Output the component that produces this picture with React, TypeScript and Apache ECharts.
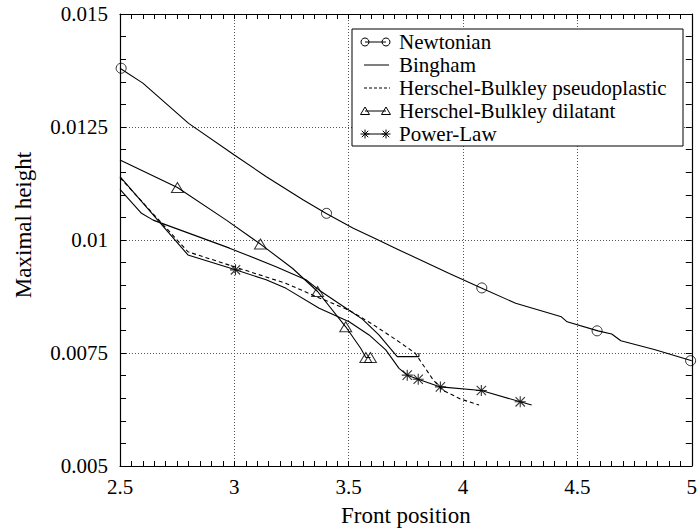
import React, { useEffect, useRef } from "react";
import * as echarts from "echarts";

// ---- Data ----
const newtonianX = [2.5, 2.6, 2.8, 3.0, 3.14, 3.3, 3.4, 3.52, 3.62, 3.72, 3.94, 4.08, 4.23, 4.43, 4.455, 4.59, 4.65, 4.69, 4.84, 5.0];
const newtonianY = [0.0138, 0.01347, 0.01258, 0.01188, 0.0114, 0.01089, 0.01059, 0.01026, 0.01002, 0.00978, 0.00926, 0.00894, 0.0086, 0.0083, 0.00819, 0.00799, 0.00792, 0.00777, 0.00757, 0.00733];
const newtonianMarkX = [2.505, 3.403, 4.082, 4.586, 4.995];
const newtonianMarkY = [0.0138, 0.01059, 0.00894, 0.00799, 0.00733];

const binghamX = [2.5, 2.594, 2.645, 2.979, 3.182, 3.313, 3.371, 3.5, 3.56, 3.632, 3.712, 3.807, 3.807];
const binghamY = [0.01112, 0.01059, 0.01044, 0.00982, 0.00941, 0.00912, 0.00889, 0.00845, 0.00825, 0.0079, 0.00742, 0.00742, 0.0075];

const pseudoX = [2.5, 2.797, 3.005, 3.226, 3.357, 3.5, 3.6, 3.705, 3.79, 3.83, 3.87, 3.91, 3.99, 4.07];
const pseudoY = [0.01138, 0.00974, 0.0094, 0.00904, 0.00875, 0.00845, 0.00815, 0.0078, 0.0075, 0.0072, 0.0069, 0.00668, 0.00648, 0.00635];

const dilatantX = [2.5, 2.751, 2.965, 3.114, 3.255, 3.364, 3.487, 3.553, 3.575, 3.595];
const dilatantY = [0.01177, 0.01116, 0.01044, 0.00991, 0.00937, 0.00886, 0.00808, 0.0076, 0.0074, 0.0074];
const dilatantMarkX = [2.751, 3.114, 3.364, 3.487, 3.575, 3.595];
const dilatantMarkY = [0.01116, 0.00991, 0.00886, 0.00808, 0.0074, 0.0074];

const powerX = [2.5, 2.797, 3.005, 3.139, 3.226, 3.371, 3.502, 3.589, 3.662, 3.72, 3.756, 3.804, 3.901, 4.08, 4.25, 4.3];
const powerY = [0.0114, 0.00967, 0.00934, 0.00912, 0.00893, 0.00849, 0.00819, 0.0079, 0.00757, 0.00716, 0.00701, 0.00692, 0.00675, 0.00667, 0.00642, 0.00635];
const powerMarkX = [3.005, 3.756, 3.804, 3.901, 4.08, 4.25];
const powerMarkY = [0.00934, 0.00701, 0.00692, 0.00675, 0.00667, 0.00642];

const seriesNames = [
  "Newtonian",
  "Bingham",
  "Herschel-Bulkley pseudoplastic",
  "Herschel-Bulkley dilatant",
  "Power-Law",
];

const xMin = 2.5, xMax = 5, xStep = 0.5;
const yMin = 0.005, yMax = 0.015, yStep = 0.0025;
const xTitle = "Front position";
const yTitle = "Maximal height";

const FONT = "Liberation Serif";
const STAR =
  "path://M9 0L11 0L11 20L9 20Z M0 9L20 9L20 11L0 11Z M2.2 0.8L19.2 17.8L17.8 19.2L0.8 2.2Z M17.8 0.8L19.2 2.2L2.2 19.2L0.8 17.8Z";

const zip = (xs: number[], ys: number[]) => xs.map((x, i) => [x, ys[i]]);

function starLines(cx: number, cy: number, r: number) {
  const d = r * 0.72;
  const ls = { stroke: "#000", lineWidth: 1 };
  return [
    { type: "line", shape: { x1: cx - r, y1: cy, x2: cx + r, y2: cy }, style: ls },
    { type: "line", shape: { x1: cx, y1: cy - r, x2: cx, y2: cy + r }, style: ls },
    { type: "line", shape: { x1: cx - d, y1: cy - d, x2: cx + d, y2: cy + d }, style: ls },
    { type: "line", shape: { x1: cx - d, y1: cy + d, x2: cx + d, y2: cy - d }, style: ls },
  ];
}
function tri(cx: number, cy: number) {
  return {
    type: "polygon",
    shape: { points: [[cx, cy - 4], [cx + 4.5, cy + 3.5], [cx - 4.5, cy + 3.5]] },
    style: { fill: "none", stroke: "#000", lineWidth: 1 },
  };
}

export default function App() {
  const ref = useRef<HTMLDivElement>(null);
  useEffect(() => {
    if (!ref.current) return;
    const chart = echarts.init(ref.current, null, { renderer: "svg" });

    const axisCommon = {
      type: "value",
      axisLine: { show: true, onZero: false, lineStyle: { color: "#000", width: 1.2 } },
      axisTick: { show: true, inside: true, lineStyle: { color: "#000", width: 1 } },
      minorTick: { show: true, lineStyle: { color: "#000", width: 1 } },
    };
    const labelStyle = { color: "#000", fontFamily: FONT, fontSize: 21 };
    const gridLine = { show: true, lineStyle: { color: "#555", width: 1, type: [1, 2] } };

    const rowY = [42, 65, 88, 111, 134];
    const lx1 = 365, lx2 = 386, tx = 399;
    const legend: any[] = [
      {
        type: "rect",
        shape: { x: 352, y: 29, width: 331, height: 117 },
        style: { fill: "#fff", stroke: "#000", lineWidth: 1 },
        z: 100,
      },
    ];
    seriesNames.forEach((n, i) => {
      legend.push({
        type: "text",
        x: tx,
        y: rowY[i],
        style: { text: n, fill: "#000", font: `21px ${FONT}`, verticalAlign: "middle", align: "left" },
        z: 101,
      });
    });
    const lineStyle = { stroke: "#000", lineWidth: 1 };
    legend.push({ type: "line", shape: { x1: lx1, y1: rowY[0], x2: lx2, y2: rowY[0] }, style: lineStyle, z: 101 });
    legend.push({ type: "circle", shape: { cx: lx1, cy: rowY[0], r: 4 }, style: { fill: "none", stroke: "#000", lineWidth: 1 }, z: 102 });
    legend.push({ type: "circle", shape: { cx: lx2, cy: rowY[0], r: 4 }, style: { fill: "none", stroke: "#000", lineWidth: 1 }, z: 102 });
    legend.push({ type: "line", shape: { x1: 364, y1: rowY[1], x2: 389, y2: rowY[1] }, style: lineStyle, z: 101 });
    legend.push({ type: "line", shape: { x1: 364, y1: rowY[2], x2: 390, y2: rowY[2] }, style: { ...lineStyle, lineDash: [3, 2] }, z: 101 });
    legend.push({ type: "line", shape: { x1: lx1, y1: rowY[3], x2: lx2, y2: rowY[3] }, style: lineStyle, z: 101 });
    legend.push({ ...tri(lx1, rowY[3]), z: 102 });
    legend.push({ ...tri(lx2, rowY[3]), z: 102 });
    legend.push({ type: "line", shape: { x1: lx1, y1: rowY[4], x2: lx2, y2: rowY[4] }, style: lineStyle, z: 101 });
    starLines(lx1, rowY[4], 4.5).forEach((e) => legend.push({ ...e, z: 102 }));
    starLines(lx2, rowY[4], 4.5).forEach((e) => legend.push({ ...e, z: 102 }));

    const line = (name: string, xs: number[], ys: number[], dashed = false) => ({
      type: "line",
      name,
      data: zip(xs, ys),
      symbol: "none",
      showSymbol: false,
      lineStyle: { color: "#000", width: 1.1, type: dashed ? [4, 3] : "solid" },
      z: 3,
    });
    const marks = (name: string, xs: number[], ys: number[], symbol: string, size: any, filled = false) => ({
      type: "scatter",
      name,
      data: zip(xs, ys),
      symbol,
      symbolSize: size,
      itemStyle: filled
        ? { color: "#000" }
        : { color: "rgba(0,0,0,0)", borderColor: "#000", borderWidth: 1 },
      z: 4,
    });

    chart.setOption({
      animation: false,
      backgroundColor: "#fff",
      grid: { left: 120, right: 6, top: 14, bottom: 66, containLabel: false },
      xAxis: [
        {
          ...axisCommon,
          min: xMin,
          max: xMax,
          interval: xStep,
          position: "bottom",
          axisTick: { ...axisCommon.axisTick, length: 5 },
          minorTick: { ...axisCommon.minorTick, splitNumber: 10, length: 5 },
          axisLabel: { ...labelStyle, margin: 10, formatter: (v: number) => String(+v.toFixed(2)) },
          splitLine: gridLine,
          name: xTitle,
          nameLocation: "middle",
          nameGap: 38,
          nameTextStyle: { color: "#000", fontFamily: FONT, fontSize: 23 },
        },
        {
          ...axisCommon,
          min: xMin,
          max: xMax,
          interval: xStep,
          position: "top",
          axisTick: { ...axisCommon.axisTick, length: 5 },
          minorTick: { ...axisCommon.minorTick, splitNumber: 10, length: 5 },
          axisLabel: { show: false },
          splitLine: { show: false },
        },
      ],
      yAxis: [
        {
          ...axisCommon,
          min: yMin,
          max: yMax,
          interval: yStep,
          position: "left",
          axisTick: { ...axisCommon.axisTick, length: 6 },
          minorTick: { ...axisCommon.minorTick, splitNumber: 5, length: 6 },
          axisLabel: { ...labelStyle, margin: 12, formatter: (v: number) => String(+v.toFixed(5)) },
          splitLine: gridLine,
        },
        {
          ...axisCommon,
          min: yMin,
          max: yMax,
          interval: yStep,
          position: "right",
          axisTick: { ...axisCommon.axisTick, length: 6 },
          minorTick: { ...axisCommon.minorTick, splitNumber: 5, length: 6 },
          axisLabel: { show: false },
          splitLine: { show: false },
        },
      ],
      graphic: [
        {
          type: "text",
          x: 23,
          y: 225,
          rotation: Math.PI / 2,
          style: { text: yTitle, fill: "#000", font: `23px ${FONT}`, align: "center", verticalAlign: "middle" },
        },
        ...legend,
      ],
      series: [
        line(seriesNames[0], newtonianX, newtonianY),
        marks(seriesNames[0], newtonianMarkX, newtonianMarkY, "circle", 10),
        line(seriesNames[1], binghamX, binghamY),
        line(seriesNames[2], pseudoX, pseudoY, true),
        line(seriesNames[3], dilatantX, dilatantY),
        marks(seriesNames[3], dilatantMarkX, dilatantMarkY, "triangle", [12, 10]),
        line(seriesNames[4], powerX, powerY),
        marks(seriesNames[4], powerMarkX, powerMarkY, STAR, 11, true),
      ],
    });
    return () => chart.dispose();
  }, []);
  return (
    <div
      ref={ref}
      style={{ position: "absolute", left: 0, top: 0, width: 700, height: 532 }}
    />
  );
}
